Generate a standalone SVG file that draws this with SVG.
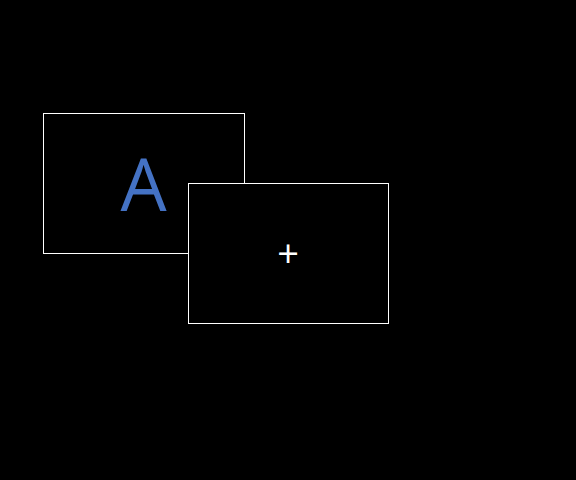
<svg xmlns="http://www.w3.org/2000/svg" width="576" height="480" viewBox="0 0 576 480">
<style>
.box{fill:#000;stroke:#fff;stroke-width:1}
.t{font-family:"Open Sans","Noto Sans",sans-serif;text-anchor:middle}
</style>
<rect width="576" height="480" fill="#000"/>
<g id="nodeA">
<rect class="box" x="43.5" y="113.5" width="201" height="140"/>
<text class="t" x="143.5" y="211" font-size="73" font-weight="500" fill="#4472C4">A</text>
</g>
<g id="nodeB">
<rect class="box" x="188.5" y="183.5" width="200" height="140"/>
<text class="t" x="288" y="267" font-size="38" font-weight="500" fill="#fff">+</text>
</g>
<g id="connectors"></g>
</svg>
